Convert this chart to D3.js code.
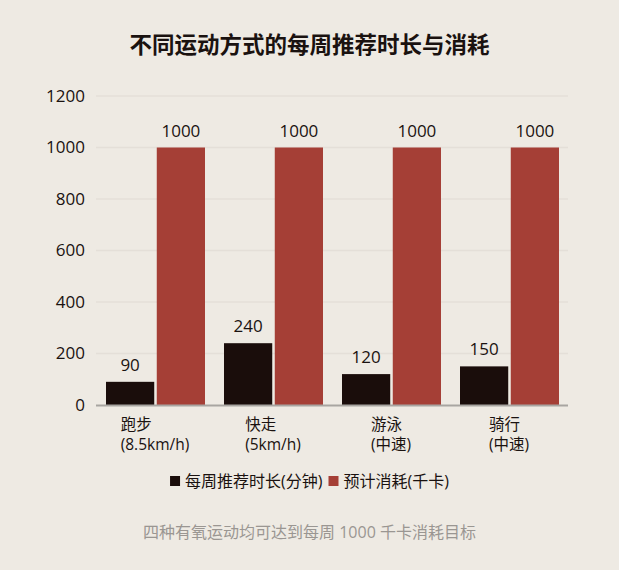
<!DOCTYPE html>
<html>
<head>
<meta charset="utf-8">
<script src="https://cdn.jsdelivr.net/npm/d3@7"></script>
<style>
    body { margin: 0; background: #eeeae3; }
    svg text { font-family: "Open Sans", "Noto Sans CJK SC", sans-serif; }
</style>
</head>
<body>
<div id="chart"></div>
<script>
const categories = [["跑步", "(8.5km/h)"], ["快走", "(5km/h)"], ["游泳", "(中速)"], ["骑行", "(中速)"]];
const seriesNames = ["每周推荐时长(分钟)", "预计消耗(千卡)"];
const minutes = [90, 240, 120, 150];
const calories = [1000, 1000, 1000, 1000];
const yTicks = [0, 200, 400, 600, 800, 1000, 1200];
const colors = ["#1a0d0b", "#a53f36"];

const W = 619, H = 570;
const margin = { top: 96, right: 51, bottom: 165, left: 96 };
const width = W - margin.left - margin.right;
const height = H - margin.top - margin.bottom;

const root = d3.select("#chart").append("svg")
    .attr("width", W)
    .attr("height", H);

root.append("rect").attr("width", W).attr("height", H).attr("fill", "#eeeae3");

root.append("text")
    .attr("x", W / 2)
    .attr("y", 53)
    .attr("text-anchor", "middle")
    .attr("font-size", 22.5)
    .attr("font-weight", "bold")
    .attr("fill", "#1a1210")
    .text("不同运动方式的每周推荐时长与消耗");

const svg = root.append("g").attr("transform", `translate(${margin.left},${margin.top})`);

const x0 = d3.scaleBand()
    .domain(d3.range(categories.length))
    .range([0, width])
    .paddingInner(0)
    .paddingOuter(0);

const x1 = d3.scaleBand()
    .domain([0, 1])
    .range([10, x0.bandwidth() - 9])
    .paddingInner(0.05);

const y = d3.scaleLinear().domain([0, 1200]).range([height, 0]);

svg.selectAll(".grid-line")
    .data(yTicks.filter(d => d > 0))
    .enter()
    .append("line")
    .attr("class", "grid-line")
    .attr("x1", 0)
    .attr("x2", width)
    .attr("y1", d => y(d))
    .attr("y2", d => y(d))
    .attr("stroke", "#e4dfd8")
    .attr("stroke-width", 1.5);

const yAxis = svg.append("g")
    .call(d3.axisLeft(y).tickValues(yTicks).tickFormat(d3.format("d")).tickSize(0).tickPadding(11));
yAxis.select(".domain").remove();
yAxis.selectAll("text")
    .attr("font-size", 17)
    .attr("fill", "#1a1210");

const groups = svg.selectAll(".group")
    .data(categories)
    .enter()
    .append("g")
    .attr("class", "group")
    .attr("transform", (d, i) => `translate(${x0(i)},0)`);

[minutes, calories].forEach((series, s) => {
    groups.append("rect")
        .attr("x", x1(s))
        .attr("width", x1.bandwidth())
        .attr("y", (d, i) => y(series[i]))
        .attr("height", (d, i) => height - y(series[i]))
        .attr("fill", colors[s]);

    groups.append("text")
        .attr("x", x1(s) + x1.bandwidth() / 2)
        .attr("y", (d, i) => y(series[i]) - 11)
        .attr("text-anchor", "middle")
        .attr("font-size", 17)
        .attr("fill", "#1a1210")
        .text((d, i) => series[i]);
});

svg.append("line")
    .attr("x1", 0)
    .attr("x2", width)
    .attr("y1", height + 0.5)
    .attr("y2", height + 0.5)
    .attr("stroke", "#a8a5a1")
    .attr("stroke-width", 2);

// category labels: lines left-aligned, block centred on the band
groups.each(function (lines) {
    const g = d3.select(this);
    const texts = lines.map((line, k) => g.append("text")
        .attr("x", 0)
        .attr("y", height + 25 + k * 20)
        .attr("font-size", 15.5)
        .attr("fill", "#1a1210")
        .text(line));
    const maxW = d3.max(texts, t => t.node().getComputedTextLength());
    texts.forEach(t => t.attr("x", x0.bandwidth() / 2 - maxW / 2));
});

// legend
const legend = root.append("g");
let lx = 0;
seriesNames.forEach((name, s) => {
    const item = legend.append("g").attr("transform", `translate(${lx},0)`);
    item.append("rect")
        .attr("x", 0)
        .attr("y", -5)
        .attr("width", 10)
        .attr("height", 10)
        .attr("fill", colors[s]);
    const t = item.append("text")
        .attr("x", 15)
        .attr("y", 0)
        .attr("dy", "0.35em")
        .attr("font-size", 16)
        .attr("fill", "#1a1210")
        .text(name);
    lx += 15 + t.node().getComputedTextLength() + 6;
});
legend.attr("transform", `translate(${(W - (lx - 6)) / 2},481)`);

root.append("text")
    .attr("x", W / 2)
    .attr("y", 532)
    .attr("dy", "0.35em")
    .attr("text-anchor", "middle")
    .attr("font-size", 16)
    .attr("fill", "#9a9692")
    .text("四种有氧运动均可达到每周 1000 千卡消耗目标");
</script>
</body>
</html>
